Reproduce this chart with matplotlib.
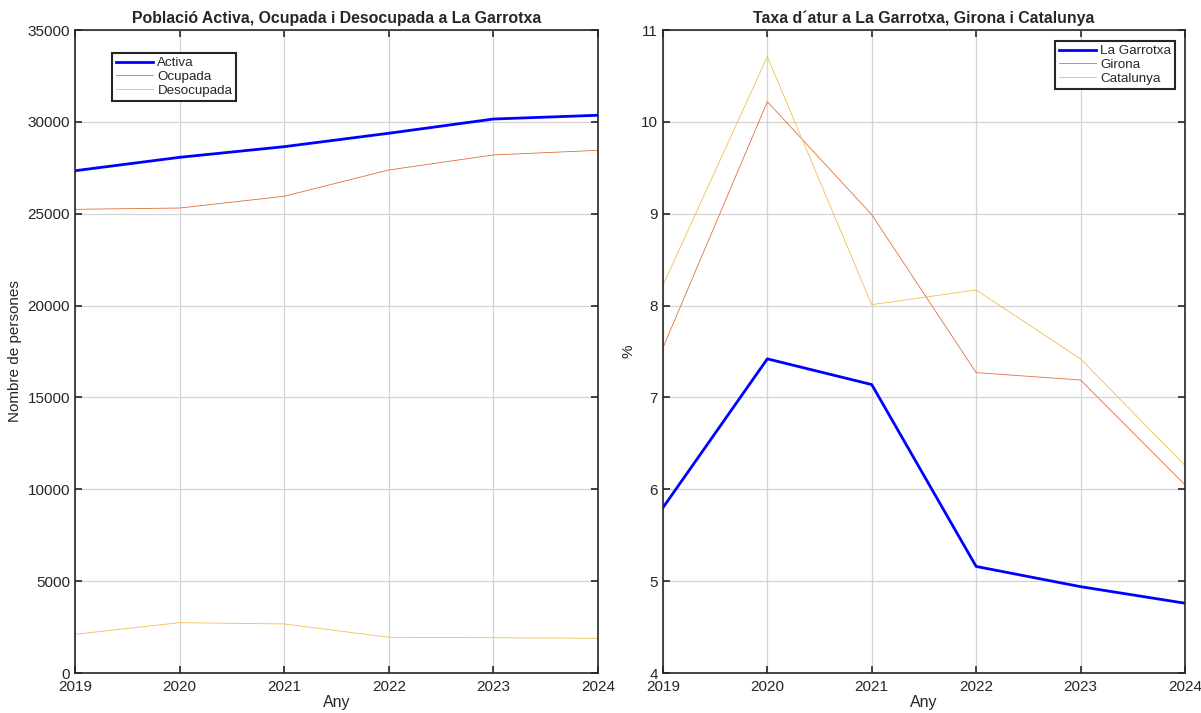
import matplotlib
matplotlib.use("Agg")
import matplotlib.pyplot as plt

plt.rcParams['font.family'] = ['Liberation Sans', 'DejaVu Sans']

years = [2019, 2020, 2021, 2022, 2023, 2024]

# Població (persones)
activa = [27340, 28070, 28650, 29380, 30155, 30360]
ocupada = [25240, 25310, 25950, 27380, 28200, 28450]
desocupada = [2105, 2740, 2670, 1945, 1920, 1890]

# Taxa d'atur (%)
garrotxa = [5.80, 7.42, 7.14, 5.16, 4.94, 4.76]
girona = [7.54, 10.22, 8.99, 7.27, 7.19, 6.05]
catalunya = [8.22, 10.71, 8.01, 8.17, 7.42, 6.26]

BLUE = '#0000FF'
ORANGE = '#E2703A'
YELLOW = '#F0BF4C'
AX_COLOR = '#262626'


def style_axes(ax):
    ax.grid(True, color='#d4d4d4', linewidth=0.9)
    ax.set_axisbelow(True)
    for s in ax.spines.values():
        s.set_color(AX_COLOR)
        s.set_linewidth(1.2)
    ax.tick_params(direction='in', length=5, width=1.2, colors=AX_COLOR,
                   labelcolor=AX_COLOR, labelsize=11, top=True, right=True)
    ax.tick_params(axis='x', pad=5)
    ax.set_xlim(2019, 2024)
    ax.set_xticks(years)


def style_legend(leg):
    fr = leg.get_frame()
    fr.set_edgecolor(AX_COLOR)
    fr.set_linewidth(1.5)
    fr.set_boxstyle('square', pad=0)
    fr.set_alpha(1)
    for t in leg.get_texts():
        t.set_color(AX_COLOR)


leg_kw = dict(fontsize=9.6, handlelength=2.8, handletextpad=0.3,
              borderaxespad=0, borderpad=0.3, labelspacing=0.1,
              fancybox=False)

fig = plt.figure(figsize=(12.01, 7.13), dpi=100)
ax1 = fig.add_axes([0.0624, 0.0561, 0.4355, 0.9018])
ax2 = fig.add_axes([0.552, 0.0561, 0.4346, 0.9018])

ax1.plot(years, activa, color=BLUE, lw=2, label='Activa')
ax1.plot(years, ocupada, color=ORANGE, lw=0.6, label='Ocupada')
ax1.plot(years, desocupada, color=YELLOW, lw=0.6, label='Desocupada')
style_axes(ax1)
ax1.set_ylim(0, 35000)
ax1.set_yticks(range(0, 35001, 5000))
ax1.set_title('Població Activa, Ocupada i Desocupada a La Garrotxa',
              fontsize=11.4, fontweight='bold', pad=5, color=AX_COLOR)
ax1.set_xlabel('Any', fontsize=11.5, labelpad=1, color=AX_COLOR)
ax1.set_ylabel('Nombre de persones', fontsize=11, color=AX_COLOR)
leg1 = ax1.legend(loc='upper left', bbox_to_anchor=(0.071, 0.964), **leg_kw)
style_legend(leg1)

ax2.plot(years, garrotxa, color=BLUE, lw=2, label='La Garrotxa')
ax2.plot(years, girona, color=ORANGE, lw=0.6, label='Girona')
ax2.plot(years, catalunya, color=YELLOW, lw=0.6, label='Catalunya')
style_axes(ax2)
ax2.set_ylim(4, 11)
ax2.set_yticks(range(4, 12))
ax2.set_title('Taxa d´atur a La Garrotxa, Girona i Catalunya',
              fontsize=11.4, fontweight='bold', pad=5, color=AX_COLOR)
ax2.set_xlabel('Any', fontsize=11.5, labelpad=1, color=AX_COLOR)
ax2.set_ylabel('%', fontsize=11, color=AX_COLOR)
leg2 = ax2.legend(loc='upper right', bbox_to_anchor=(0.981, 0.983), **leg_kw)
style_legend(leg2)

fig.savefig('out.png', dpi=100)
